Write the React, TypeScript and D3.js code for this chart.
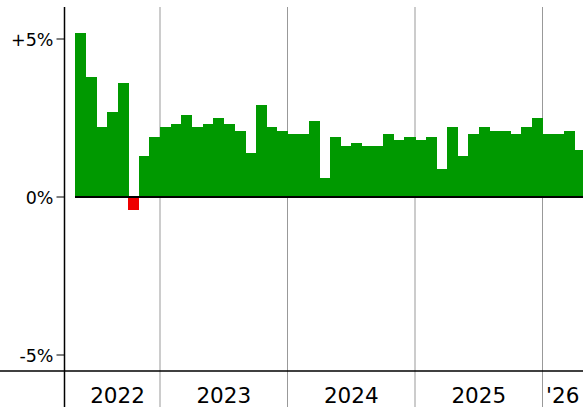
import React from "react";
import * as d3 from "d3";

// monthly change, May 2022 .. Apr 2026
const months = [
  "2022-05", "2022-06", "2022-07", "2022-08", "2022-09", "2022-10", "2022-11", "2022-12",
  "2023-01", "2023-02", "2023-03", "2023-04", "2023-05", "2023-06", "2023-07", "2023-08", "2023-09", "2023-10", "2023-11", "2023-12",
  "2024-01", "2024-02", "2024-03", "2024-04", "2024-05", "2024-06", "2024-07", "2024-08", "2024-09", "2024-10", "2024-11", "2024-12",
  "2025-01", "2025-02", "2025-03", "2025-04", "2025-05", "2025-06", "2025-07", "2025-08", "2025-09", "2025-10", "2025-11", "2025-12",
  "2026-01", "2026-02", "2026-03", "2026-04",
];
const values = [
  5.2, 3.8, 2.2, 2.7, 3.6, -0.4, 1.3, 1.9,
  2.2, 2.3, 2.6, 2.2, 2.3, 2.5, 2.3, 2.1, 1.4, 2.9, 2.2, 2.1,
  2.0, 2.0, 2.4, 0.6, 1.9, 1.6, 1.7, 1.6, 1.6, 2.0, 1.8, 1.9,
  1.8, 1.9, 0.9, 2.2, 1.3, 2.0, 2.2, 2.1, 2.1, 2.0, 2.2, 2.5,
  2.0, 2.0, 2.1, 1.5,
];
const years = ["2022", "2023", "2024", "2025", "2026"];
const yearLabels = ["2022", "2023", "2024", "2025", "'26"];
const yTicks = [5, 0, -5];
const yTickLabels = ["+5%", "0%", "-5%"];

const W = 583, H = 407;
const axisX = 64.5;
const bottomY = 371;
const font = "'DejaVu Sans', Verdana, sans-serif";

export default function App() {
  const x = d3.scaleBand<string>().domain(months).range([75, 585]).padding(0);
  const y = d3.scaleLinear().domain([-5, 5]).range([355, 39]);

  // start of each year (first month present) and its span
  const yearSpans = years.map((yr) => {
    const ms = months.filter((m) => m.startsWith(yr));
    const x0 = x(ms[0])!;
    const x1 = Math.min(x(ms[ms.length - 1])! + x.bandwidth(), W);
    return { yr, x0, x1 };
  });

  return (
    <svg width={W} height={H} style={{ position: "absolute", left: 0, top: 0 }}>
      <rect width={W} height={H} fill="white" />
      {/* year separators */}
      {yearSpans.slice(1).map((s) => (
        <line key={s.yr} x1={s.x0} x2={s.x0} y1={7} y2={H} stroke="#999" strokeWidth={1} />
      ))}
      {/* bars */}
      {values.map((v, i) => (
        <rect
          key={months[i]}
          x={x(months[i])}
          width={x.bandwidth() + 0.5}
          y={v >= 0 ? y(v) : y(0)}
          height={Math.abs(y(v) - y(0))}
          fill={v >= 0 ? "#009900" : "#ee0000"}
          shapeRendering="crispEdges"
        />
      ))}
      {/* zero line */}
      <line x1={x(months[0])} x2={W} y1={y(0)} y2={y(0)} stroke="black" strokeWidth={2} />
      {/* y axis */}
      <line x1={axisX} x2={axisX} y1={7} y2={H} stroke="black" strokeWidth={1.5} />
      <line x1={0} x2={W} y1={bottomY} y2={bottomY} stroke="black" strokeWidth={1.5} />
      {yTicks.map((t, i) => (
        <g key={t}>
          <line x1={axisX - 8} x2={axisX} y1={y(t)} y2={y(t)} stroke="black" strokeWidth={1} />
          <text
            x={axisX - 11}
            y={y(t) + 1}
            textAnchor="end"
            dominantBaseline="central"
            fontFamily={font}
            fontSize={17.5}
            fill="black"
          >
            {yTickLabels[i]}
          </text>
        </g>
      ))}
      {/* year labels */}
      {yearSpans.map((s, i) => (
        <text
          key={s.yr}
          x={(s.x0 + s.x1) / 2}
          y={403}
          textAnchor="middle"
          fontFamily={font}
          fontSize={21.5}
          fill="black"
        >
          {yearLabels[i]}
        </text>
      ))}
    </svg>
  );
}
